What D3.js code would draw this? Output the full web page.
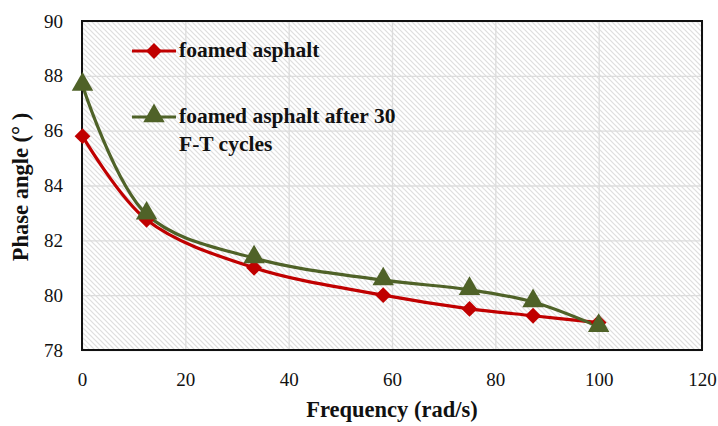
<!DOCTYPE html>
<html>
<head>
<meta charset="utf-8">
<script src="https://cdn.jsdelivr.net/npm/d3@7"></script>
<style>
  body { margin: 0; background: #fff; }
  text { font-family: "Liberation Serif", "DejaVu Serif", serif; }
</style>
</head>
<body>
<div id="chart"></div>
<script>
var w = 718;
var h = 426;

// frequencies (rad/s)
var freq = [0.1, 12.5, 33.3, 58.3, 75, 87.3, 100];
// phase angle, degrees
var foamed = [85.8, 82.75, 81.0, 80.0, 79.5, 79.25, 79.0];
var foamedFT = [87.65, 82.95, 81.35, 80.55, 80.2, 79.75, 78.85];
var xTicks = [0, 20, 40, 60, 80, 100, 120];
var yTicks = [78, 80, 82, 84, 86, 88, 90];
var seriesNames = ["foamed asphalt", "foamed asphalt after 30", "F-T cycles"];

var margin = {left: 82, right: 16, top: 21, bottom: 76};

var svg = d3.select("#chart")
  .append("svg")
  .attr("width", w)
  .attr("height", h);

var defs = svg.append("defs");
var pat = defs.append("pattern")
  .attr("id", "hatch")
  .attr("patternUnits", "userSpaceOnUse")
  .attr("width", 5)
  .attr("height", 5);
pat.append("rect").attr("width", 5).attr("height", 5).attr("fill", "#fff");
pat.append("path")
  .attr("d", "M-1,-1 L6,6 M-1,4 L1,6 M4,-1 L6,1")
  .attr("stroke", "#dedede")
  .attr("stroke-width", 1.2);

var xScale = d3.scaleLinear()
  .domain([0, 120])
  .range([margin.left, w - margin.right]);

var yScale = d3.scaleLinear()
  .domain([78, 90])
  .range([h - margin.bottom, margin.top]);

// background
svg.append("rect")
  .attr("x", xScale(0))
  .attr("y", yScale(90))
  .attr("width", xScale(120) - xScale(0))
  .attr("height", yScale(78) - yScale(90))
  .attr("fill", "url(#hatch)");

// gridlines
svg.append("g")
  .attr("transform", "translate(0," + yScale(78) + ")")
  .call(d3.axisBottom(xScale).tickValues(xTicks).tickSize(-(yScale(78) - yScale(90))).tickFormat(""))
  .call(g => g.select(".domain").remove())
  .selectAll("line").attr("stroke", "#dcdcdc").attr("stroke-width", 1.3);

svg.append("g")
  .attr("transform", "translate(" + xScale(0) + ",0)")
  .call(d3.axisLeft(yScale).tickValues(yTicks).tickSize(-(xScale(120) - xScale(0))).tickFormat(""))
  .call(g => g.select(".domain").remove())
  .selectAll("line").attr("stroke", "#dcdcdc").attr("stroke-width", 1.3);

// tick labels
var xAxis = svg.append("g")
  .attr("transform", "translate(0," + yScale(78) + ")")
  .call(d3.axisBottom(xScale).tickValues(xTicks).tickSize(0).tickPadding(23));
xAxis.select(".domain").remove();
xAxis.selectAll("text").attr("font-size", 19).attr("fill", "#111")
  .style("font-family", "Liberation Serif");

var yAxis = svg.append("g")
  .attr("transform", "translate(" + xScale(0) + ",0)")
  .call(d3.axisLeft(yScale).tickValues(yTicks).tickSize(0).tickPadding(19));
yAxis.select(".domain").remove();
yAxis.selectAll("text").attr("font-size", 19).attr("fill", "#111")
  .style("font-family", "Liberation Serif");

// plot border
svg.append("rect")
  .attr("x", xScale(0))
  .attr("y", yScale(90))
  .attr("width", xScale(120) - xScale(0))
  .attr("height", yScale(78) - yScale(90))
  .attr("fill", "none")
  .attr("stroke", "#111")
  .attr("stroke-width", 2);

var line = d3.line()
  .x(function(d, i) { return xScale(freq[i]); })
  .y(function(d) { return yScale(d); })
  .curve(d3.curveCatmullRom.alpha(0.5));

var red = "#c00000";
var green = "#4f6228";

svg.append("path")
  .datum(foamed)
  .attr("fill", "none")
  .attr("stroke", red)
  .attr("stroke-width", 3.2)
  .attr("d", line);

svg.append("path")
  .datum(foamedFT)
  .attr("fill", "none")
  .attr("stroke", green)
  .attr("stroke-width", 3.2)
  .attr("d", line);

var diamond = d3.symbol().type(d3.symbolDiamond2).size(160);
var triangle = d3.symbol().type(d3.symbolTriangle).size(200);

svg.selectAll(".red-pt")
  .data(foamed)
  .enter().append("path")
  .attr("class", "red-pt")
  .attr("d", diamond)
  .attr("fill", red)
  .attr("transform", function(d, i) { return "translate(" + xScale(freq[i]) + "," + yScale(d) + ")"; });

svg.selectAll(".green-pt")
  .data(foamedFT)
  .enter().append("path")
  .attr("class", "green-pt")
  .attr("d", triangle)
  .attr("fill", green)
  .attr("transform", function(d, i) { return "translate(" + xScale(freq[i]) + "," + (yScale(d) - 1) + ")"; });

// legend
var leg = svg.append("g");
leg.append("line").attr("x1", 132).attr("x2", 176).attr("y1", 51).attr("y2", 51)
  .attr("stroke", red).attr("stroke-width", 3.2);
leg.append("path").attr("d", diamond).attr("fill", red)
  .attr("transform", "translate(154,51)");
leg.append("text").attr("x", 179).attr("y", 57)
  .attr("font-size", 21.5).attr("font-weight", "bold").attr("fill", "#111")
  .text(seriesNames[0]);

leg.append("line").attr("x1", 132).attr("x2", 176).attr("y1", 117).attr("y2", 117)
  .attr("stroke", green).attr("stroke-width", 3.2);
leg.append("path").attr("d", triangle).attr("fill", green)
  .attr("transform", "translate(154,116)");
leg.append("text").attr("x", 179).attr("y", 123)
  .attr("font-size", 21.5).attr("font-weight", "bold").attr("fill", "#111")
  .text(seriesNames[1]);
leg.append("text").attr("x", 179).attr("y", 151)
  .attr("font-size", 21.5).attr("font-weight", "bold").attr("fill", "#111")
  .text(seriesNames[2]);

// axis titles
svg.append("text")
  .attr("x", xScale(60))
  .attr("y", 417)
  .attr("text-anchor", "middle")
  .attr("font-size", 22.5)
  .attr("font-weight", "bold")
  .attr("fill", "#111")
  .text("Frequency (rad/s)");

svg.append("text")
  .attr("transform", "translate(28,187) rotate(-90)")
  .attr("text-anchor", "middle")
  .attr("font-size", 22.5)
  .attr("font-weight", "bold")
  .attr("fill", "#111")
  .text("Phase angle (° )");
</script>
</body>
</html>
